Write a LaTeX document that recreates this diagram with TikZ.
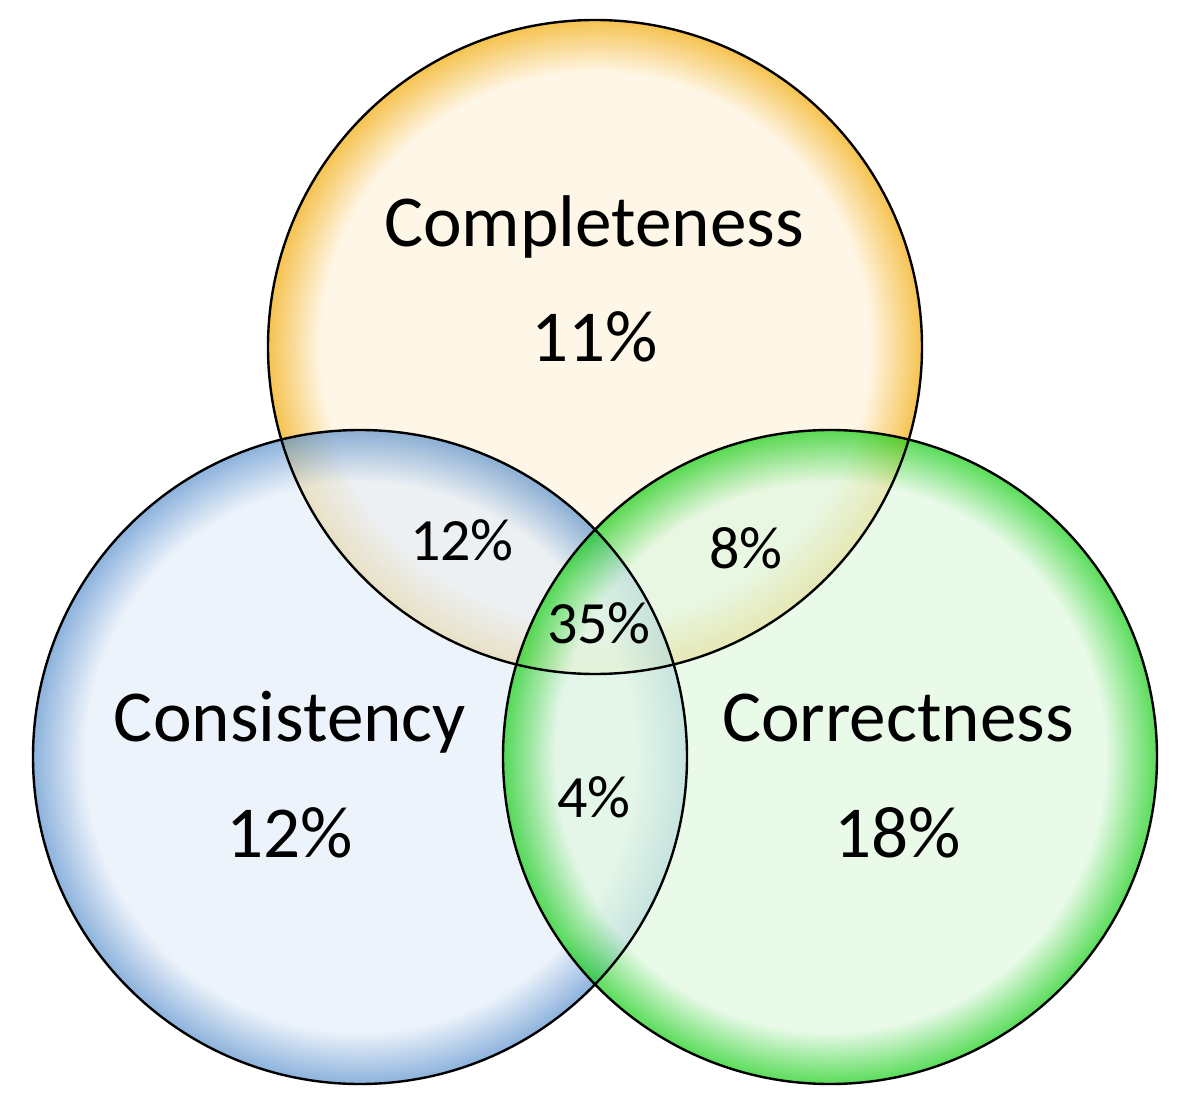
\documentclass[tikz,border=0pt]{standalone}
\usepackage{fontspec}
\setmainfont{Carlito}
\usetikzlibrary{positioning}

\definecolor{compin}{RGB}{254,242,219}
\definecolor{compout}{RGB}{241,169,5}
\definecolor{consin}{RGB}{229,238,249}
\definecolor{consout}{RGB}{91,145,205}
\definecolor{corrin}{RGB}{224,248,224}
\definecolor{corrout}{RGB}{19,205,19}

\pgfdeclareradialshading{compglow}{\pgfpoint{0bp}{0bp}}{color(0bp)=(compin); color(21bp)=(compin); color(25bp)=(compout); color(50bp)=(compout)}
\pgfdeclareradialshading{consglow}{\pgfpoint{0bp}{0bp}}{color(0bp)=(consin); color(21bp)=(consin); color(25bp)=(consout); color(50bp)=(consout)}
\pgfdeclareradialshading{corrglow}{\pgfpoint{0bp}{0bp}}{color(0bp)=(corrin); color(21bp)=(corrin); color(25bp)=(corrout); color(50bp)=(corrout)}

\tikzset{
  bigtext/.style={font=\fontsize{36.6}{40}\selectfont, anchor=base, inner sep=0pt},
  smalltext/.style={font=\fontsize{30}{34}\selectfont, anchor=base, inner sep=0pt},
  ring/.style={draw=black, line width=1.2pt}
}

\begin{document}
\begin{tikzpicture}[x=0.5pt, y=-0.5pt]
  \useasboundingbox (0,0) rectangle (1182,1106);
  \coordinate (top) at (595,347);
  \coordinate (left) at (360,757);
  \coordinate (right) at (830,757);
  % shaded discs, see-through so the overlaps mix
  \shade[shading=compglow, opacity=0.7] (top) circle[radius=163.5pt];
  \shade[shading=consglow, opacity=0.7] (left) circle[radius=163.5pt];
  \shade[shading=corrglow, opacity=0.7] (right) circle[radius=163.5pt];
  \foreach \c in {top,left,right}
  \draw[ring] (\c) circle[radius=163.5pt];
  % labels
  \node[bigtext] (comp) at (594,247) {Completeness};
  \node[bigtext] (compval) at (595,362) {11\%};
  \node[bigtext] (cons) at (290,741) {Consistency};
  \node[bigtext] (consval) at (290,857) {12\%};
  \node[bigtext] (corr) at (898,741) {Correctness};
  \node[bigtext] (corrval) at (898,857) {18\%};
  \node[smalltext] (compcons) at (462,560) {12\%};
  \node[smalltext] (compcorr) at (746,568) {8\%};
  \node[smalltext] (all) at (599,643) {35\%};
  \node[smalltext] (conscorr) at (594,817) {4\%};
\end{tikzpicture}
\end{document}
